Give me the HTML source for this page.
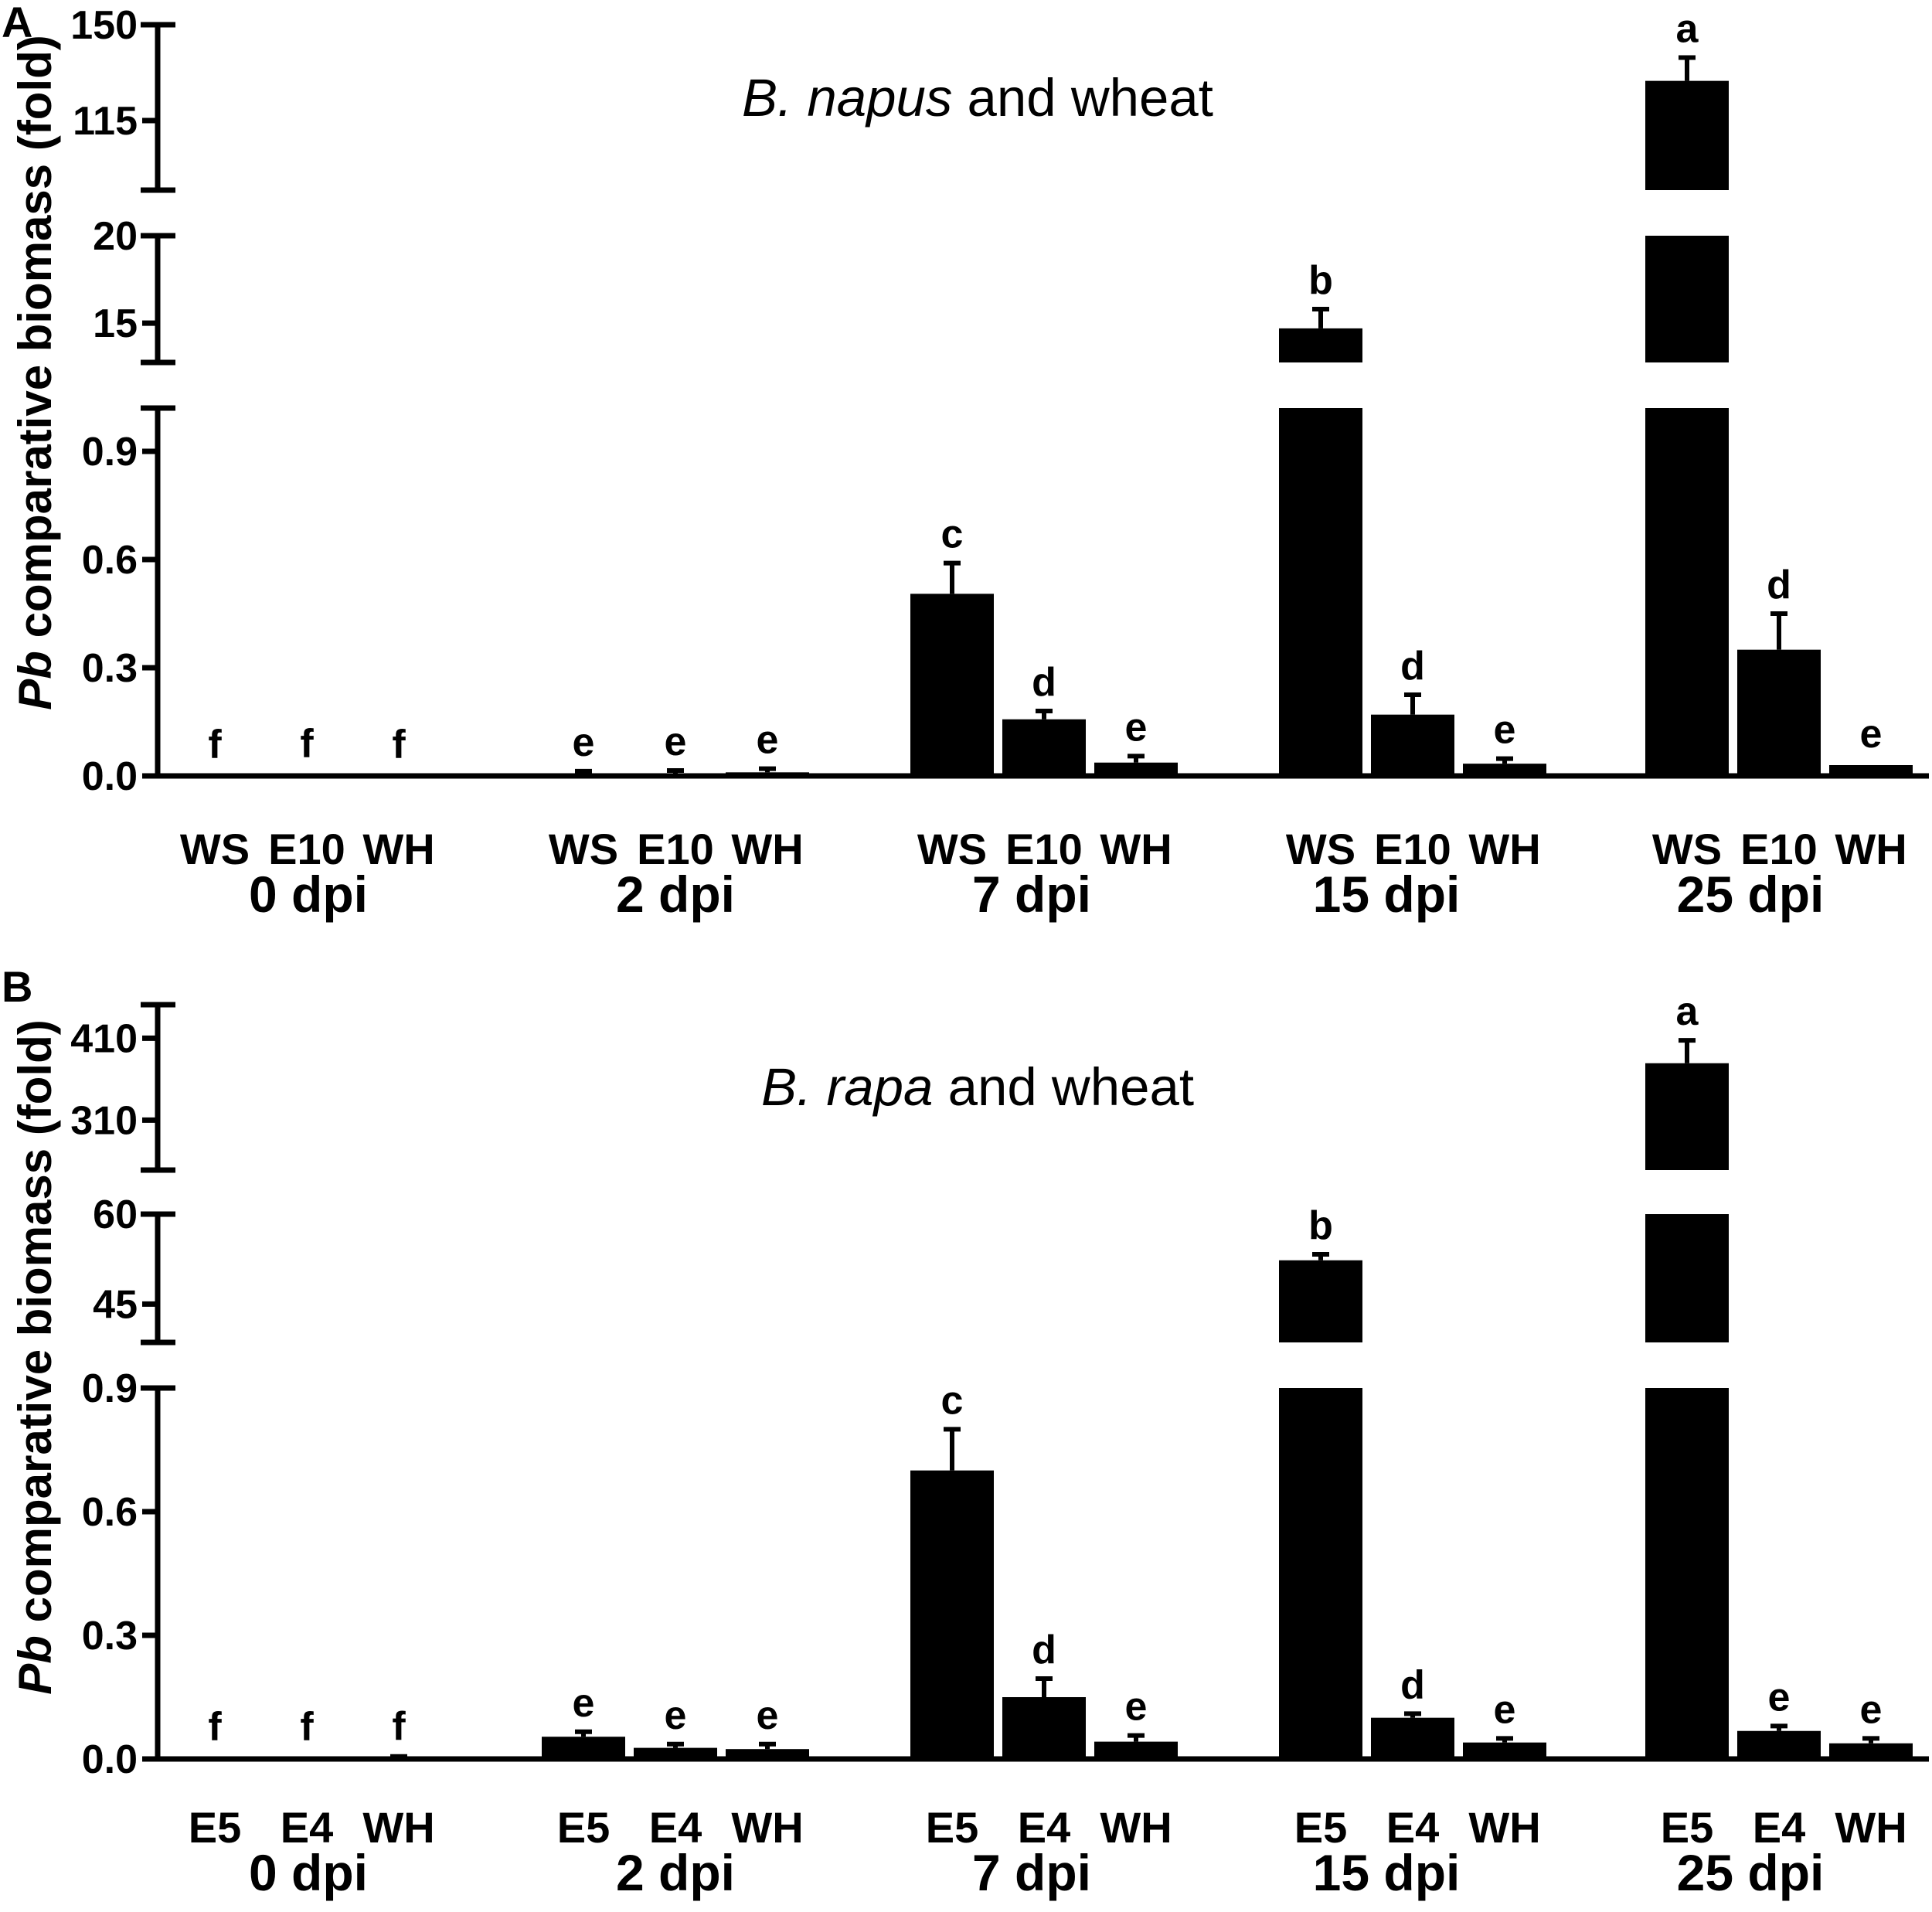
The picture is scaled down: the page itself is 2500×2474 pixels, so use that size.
<!DOCTYPE html>
<html><head><meta charset="utf-8"><style>
html,body{margin:0;padding:0;background:#fff}
svg text{font-family:"Liberation Sans",Arial,sans-serif}
</style></head><body>
<svg id="chart" width="2500" height="2469" viewBox="0 0 2500 2469" xmlns="http://www.w3.org/2000/svg"></svg>
<script>
// ---- Data ----
const dpiLabels = ["0 dpi","2 dpi","7 dpi","15 dpi","25 dpi"];
const catA = ["WS","E10","WH"];
const catB = ["E5","E4","WH"];
const valuesA = [[0.001,0.003,0.001],[0.005,0.007,0.01],[0.505,0.157,0.037],[14.7,0.17,0.034],[129.5,0.35,0.03]];
const errorsA = [[0.001,0.002,0.001],[0.008,0.008,0.01],[0.085,0.023,0.018],[1.1,0.055,0.014],[8.5,0.1,0.0]];
const lettersA = [["f","f","f"],["e","e","e"],["c","d","e"],["b","d","e"],["a","d","e"]];
const valuesB = [[0.003,0.003,0.004],[0.054,0.027,0.024],[0.70,0.15,0.042],[52.3,0.10,0.04],[379.5,0.068,0.038]];
const errorsB = [[0.001,0.001,0.002],[0.012,0.009,0.012],[0.10,0.045,0.015],[1.0,0.01,0.01],[28,0.012,0.012]];
const lettersB = [["f","f","f"],["e","e","e"],["c","d","e"],["b","d","e"],["a","e","e"]];
const ticksA = [[0,0.3,0.6,0.9],[15,20],[115,150]];
const tickLabelsA = [["0.0","0.3","0.6","0.9"],["15","20"],["115","150"]];
const ticksB = [[0,0.3,0.6,0.9],[45,60],[310,410]];
const tickLabelsB = [["0.0","0.3","0.6","0.9"],["45","60"],["310","410"]];
const domainsA = [[0,1.02],[12.75,20],[89.6,150]];
const domainsB = [[0,0.9],[38.6,60],[249,451]];

// ---- Layout ----
const NS="http://www.w3.org/2000/svg";
const svg=document.getElementById('chart');
function mk(tag,attrs,parent){const e=document.createElementNS(NS,tag);for(const k in attrs)e.setAttribute(k,attrs[k]);(parent||svg).appendChild(e);return e;}
const groupX=[397,874,1351,1828,2302], barOff=[-119,0,119], barW=108, axisX=204;
const dpiX=[399,874,1335,1794,2265];

function drawPanel(p){
  const g=mk('g',{});
  
  
  function segOf(v){for(let i=p.domains.length-1;i>=0;i--){if(v>=p.domains[i][0])return i;}return 0;}
  function y(v,i){const d=p.domains[i],r=p.ranges[i];return r[0]+(v-d[0])/(d[1]-d[0])*(r[1]-r[0]);}
  p.ranges.forEach((r,i)=>{
    const l=mk('line',{x1:axisX,x2:axisX,y1:r[0]+3,y2:r[1],stroke:'#000','stroke-width':7},g);
    
    
    mk('line',{x1:182,x2:227,y1:r[1],y2:r[1],stroke:'#000','stroke-width':7},g);
    if(i>0)mk('line',{x1:182,x2:227,y1:r[0],y2:r[0],stroke:'#000','stroke-width':7},g);
    p.ticks[i].forEach((t,j)=>{
      const ty=y(t,i);
      mk('line',{x1:184,x2:axisX,y1:ty,y2:ty,stroke:'#000','stroke-width':7},g);
      const tx=mk('text',{x:178,y:ty+18,'text-anchor':'end','font-size':52,'font-weight':'bold'},g);
      tx.textContent=p.tickLabels[i][j];
      
      
    });
  });
  const bl=mk('line',{x1:184,x2:2496,y1:p.ranges[0][0],y2:p.ranges[0][0],stroke:'#000','stroke-width':7},g);
  
  
  p.values.forEach((grp,gi)=>{
    grp.forEach((v,bi)=>{
      const cx=groupX[gi]+barOff[bi], s=segOf(v);
      for(let i=0;i<=s;i++){
        const top=(i<s)?p.ranges[i][1]:y(v,i);
        const bot=p.ranges[i][0];
        const h=Math.max(bot-top,3);
        const r=mk('rect',{x:cx-barW/2,y:bot-h,width:barW,height:h,fill:'#000'},g);
        
        
      }
      const yt=y(v,s), ye=y(v+p.errors[gi][bi],s);
      if(yt-ye>1){
        mk('line',{x1:cx,x2:cx,y1:yt,y2:ye,stroke:'#000','stroke-width':6},g);
        mk('line',{x1:cx-11,x2:cx+11,y1:ye,y2:ye,stroke:'#000','stroke-width':6},g);
      }
      const lt=mk('text',{x:cx,y:Math.min(ye,yt-3)-20,'text-anchor':'middle','font-size':52,'font-weight':'bold'},g);
      lt.textContent=p.letters[gi][bi];
      
      
      const cl=mk('text',{x:cx,y:p.catY,'text-anchor':'middle','font-size':56,'font-weight':'bold'},g);
      cl.textContent=p.cats[bi];
      
      
    });
    const dl=mk('text',{x:dpiX[gi],y:p.catY+62,'text-anchor':'middle','font-size':66,'font-weight':'bold'},g);
    dl.textContent=dpiLabels[gi];
    
    
  });
  const t=mk('text',{x:1265,y:p.titleY,'text-anchor':'middle','font-size':69},g);
  t.innerHTML='<tspan font-style="italic">'+p.species+'</tspan> and wheat';
  
  
  const pl=mk('text',{x:2,y:p.letterY,'font-size':56,'font-weight':'bold'},g);
  pl.textContent=p.id;
  
  
  const yt=mk('text',{x:0,y:0,'text-anchor':'middle','font-size':60,'font-weight':'bold',transform:'translate(66,'+p.yTitleY+') rotate(-90)'},g);
  yt.innerHTML='<tspan font-style="italic">Pb</tspan> comparative biomass (fold)';
  
  
}
drawPanel({id:'A',species:'B. napus',values:valuesA,errors:errorsA,letters:lettersA,cats:catA,ticks:ticksA,tickLabels:tickLabelsA,domains:domainsA,
  ranges:[[1004,528],[469,305],[246,32]],catY:1118,titleY:150,letterY:48,yTitleY:482});
drawPanel({id:'B',species:'B. rapa',values:valuesB,errors:errorsB,letters:lettersB,cats:catB,ticks:ticksB,tickLabels:tickLabelsB,domains:domainsB,
  ranges:[[2276,1796],[1737,1571],[1514,1300]],catY:2384,titleY:1430,letterY:1296,yTitleY:1756});
</script>
</body></html>
